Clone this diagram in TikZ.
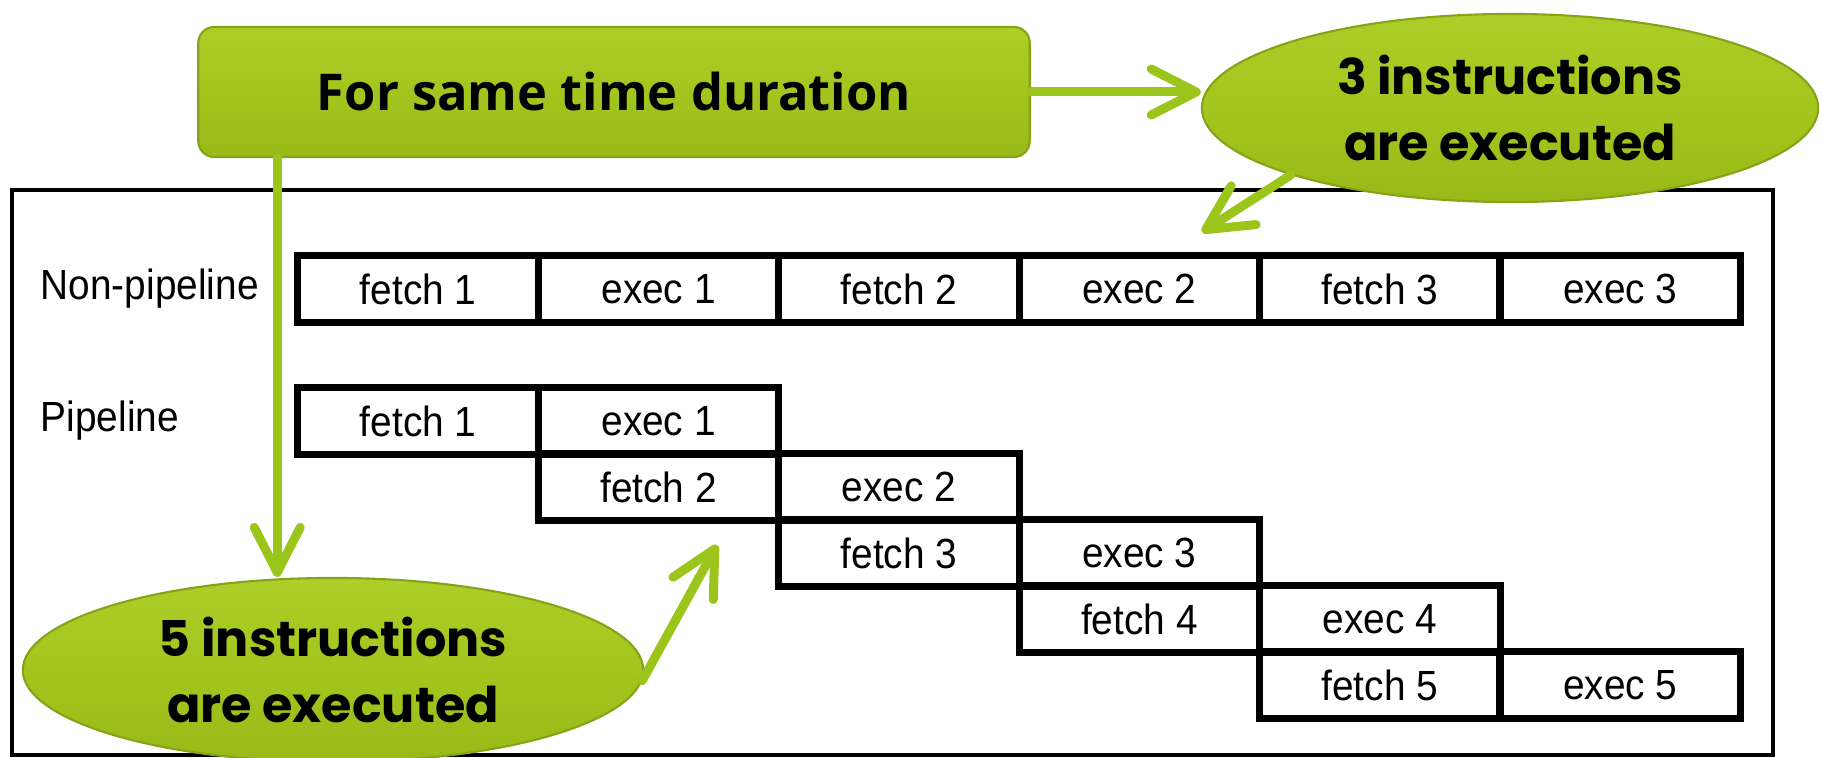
\documentclass[tikz,border=0pt]{standalone}
\usepackage{fontspec}
\setmainfont{Liberation Sans}[FakeStretch=0.92]
\newfontfamily\popfont{Poppins}
\newfontfamily\opfont{Open Sans}
\usetikzlibrary{shapes.geometric,arrows.meta}
\definecolor{limefill}{HTML}{A3C61E}
\definecolor{limelight}{HTML}{ACCE28}
\definecolor{limedark}{HTML}{98BA18}
\definecolor{limeedge}{HTML}{86A317}
\definecolor{arrowgreen}{HTML}{9CC51B}
\begin{document}
\begin{tikzpicture}[x=0.01cm,y=-0.01cm,
  cell/.style={draw=black, line width=0.07cm, minimum width=2.404cm, minimum height=0.66cm, inner sep=0pt, font=\fontsize{12}{14}\selectfont},
  lbl/.style={inner sep=0pt, anchor=west, font=\fontsize{12}{14}\selectfont},
  gbox/.style={rectangle, rounded corners=0.16cm, minimum width=8.31cm, minimum height=1.30cm, draw=limeedge, line width=0.6pt, top color=limelight, bottom color=limedark, middle color=limefill, inner sep=0pt, font=\opfont\bfseries\fontsize{14.4}{17}\selectfont},
  gell/.style={ellipse, draw=limeedge, line width=0.6pt, top color=limelight, bottom color=limedark, middle color=limefill, inner sep=0pt, align=center, font=\popfont\bfseries\fontsize{14}{18.5}\selectfont},
  garrow/.style={draw=arrowgreen, line width=0.09cm, line cap=round, -{Straight Barb[round, length=0.45cm, width=0.46cm]}},
  frame/.style={draw=black, line width=0.04cm}]
\useasboundingbox (0,0) rectangle (1821,758);
% outer frame
\draw[frame] (12,190) rectangle (1773,755);
% labels
\node[lbl] (lnp) at (40,289) {Non-pipeline};
\node[lbl] (lp) at (40,421) {Pipeline};
% non-pipeline row
\node[cell] (np1) at (418.2,289) {fetch 1};
\node[cell] (np2) at (658.6,289) {exec 1};
\node[cell] (np3) at (899.0,289) {fetch 2};
\node[cell] (np4) at (1139.4,289) {exec 2};
\node[cell] (np5) at (1379.8,289) {fetch 3};
\node[cell] (np6) at (1620.2,289) {exec 3};
% pipeline staircase
\node[cell] (p1f) at (418.2,421) {fetch 1};
\node[cell] (p1e) at (658.6,421) {exec 1};
\node[cell] (p2f) at (658.6,487) {fetch 2};
\node[cell] (p2e) at (899.0,487) {exec 2};
\node[cell] (p3f) at (899.0,553) {fetch 3};
\node[cell] (p3e) at (1139.4,553) {exec 3};
\node[cell] (p4f) at (1139.4,619) {fetch 4};
\node[cell] (p4e) at (1379.8,619) {exec 4};
\node[cell] (p5f) at (1379.8,685) {fetch 5};
\node[cell] (p5e) at (1620.2,685) {exec 5};
% green shapes
\node[gbox] (box) at (614,92) {For same time duration};
\node[gell, minimum width=6.16cm, minimum height=1.88cm] (ell3) at (1510,108) {3 instructions\\are executed};
\node[gell, minimum width=6.20cm, minimum height=1.84cm] (ell5) at (333,670) {5 instructions\\are executed};
% connectors
\path ([xshift=0.80cm]box.south west) coordinate (vs);
\coordinate (t3) at (1202,232);
\coordinate (t5) at (717,545);
\draw[garrow] (box.east) -- (box.east -| ell3.west);
\draw[garrow] (vs) -- (vs |- ell5.north);
\draw[garrow] (ell3.197) -- (t3);
\draw[garrow] (ell5.-2) -- (t5);
\end{tikzpicture}
\end{document}
